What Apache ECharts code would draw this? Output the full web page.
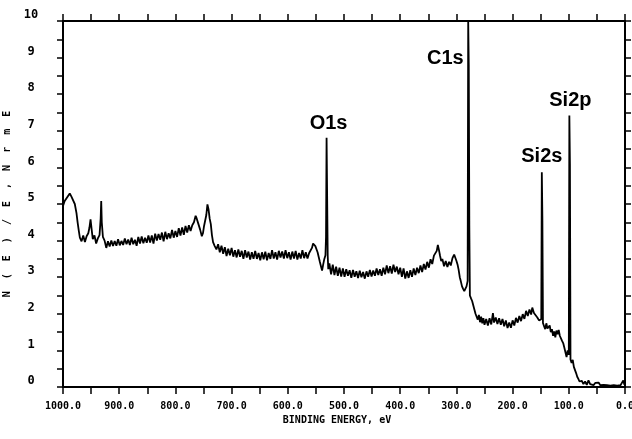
<!DOCTYPE html>
<html>
<head>
<meta charset="utf-8">
<title>XPS survey spectrum</title>
<script src="https://cdn.jsdelivr.net/npm/echarts@6/dist/echarts.min.js"></script>
<style>
  html, body { margin: 0; padding: 0; background: #fff; }
  #chart { width: 632px; height: 439px; }
</style>
</head>
<body>
<div id="chart"></div>
<script>
// Survey spectrum: [binding energy (eV), N(E)/E normalised intensity]
const spectrum = [
  [1000,4.95],[997,5.08],[994,5.15],[991,5.22],[988,5.29],[985,5.2],[982,5.22],[979,5.0],[976,4.75],[974,4.5],
  [972,4.28],[970,4.08],[967,3.98],[964,4.14],[961,3.96],[958,4.12],[955,4.2],[953,4.35],[951,4.58],[949,4.3],
  [947,4.04],[944,4.14],[941,3.92],[938,4.06],[935,4.15],[933,4.6],[932,5.08],[931,4.5],[929,4.1],[926,4.0],
  [923,3.8],[920,3.98],[917,3.84],[914,4.0],[911,3.85],[908,3.99],[905,3.86],[902,4.04],[899,3.87],[896,3.99],
  [893,3.88],[890,4.06],[887,3.9],[884,4.03],[881,3.88],[878,4.08],[875,3.9],[872,4.02],[869,3.86],[866,4.1],
  [863,3.92],[860,4.11],[857,3.93],[854,4.08],[851,3.94],[848,4.14],[845,3.95],[842,4.14],[839,3.92],[836,4.19],
  [833,4.0],[830,4.18],[827,4.02],[824,4.22],[821,3.98],[818,4.24],[815,4.04],[812,4.2],[809,4.06],[806,4.29],
  [803,4.08],[800,4.26],[797,4.1],[794,4.34],[791,4.14],[788,4.36],[785,4.16],[782,4.4],[779,4.22],[776,4.42],
  [773,4.26],[770,4.42],[767,4.5],[764,4.68],[762,4.6],[759,4.45],[756,4.3],[753,4.12],[751,4.2],[749,4.4],
  [747,4.55],[745,4.7],[743,4.99],[741,4.85],[739,4.6],[737,4.45],[735,4.15],[733,3.96],[730,3.85],[727,3.76],
  [724,3.9],[721,3.68],[718,3.86],[715,3.64],[712,3.82],[709,3.58],[706,3.78],[703,3.6],[700,3.8],[697,3.56],
  [694,3.74],[691,3.54],[688,3.76],[685,3.56],[682,3.72],[679,3.5],[676,3.74],[673,3.54],[670,3.7],[667,3.48],
  [664,3.68],[661,3.5],[658,3.72],[655,3.5],[652,3.66],[649,3.46],[646,3.68],[643,3.49],[640,3.7],[637,3.46],
  [634,3.66],[631,3.5],[628,3.74],[625,3.51],[622,3.68],[619,3.48],[616,3.72],[613,3.54],[610,3.7],[607,3.51],
  [604,3.74],[601,3.52],[598,3.68],[595,3.48],[592,3.7],[589,3.51],[586,3.72],[583,3.48],[580,3.66],[577,3.51],
  [574,3.74],[571,3.52],[568,3.68],[565,3.51],[562,3.66],[559,3.7],[557,3.8],[555,3.92],[553,3.95],[551,3.85],
  [549,3.82],[547,3.68],[545,3.55],[543,3.42],[541,3.3],[539,3.18],[537,3.35],[535,3.5],[533,3.6],[532,4.1],
  [531,6.81],[530,5.2],[529,3.6],[528,3.22],[526,3.38],[523,3.08],[520,3.34],[517,3.06],[514,3.29],[511,3.04],
  [508,3.26],[505,3.02],[502,3.24],[499,3.01],[496,3.22],[493,3.04],[490,3.19],[487,2.98],[484,3.2],[481,3.01],
  [478,3.16],[475,2.98],[472,3.18],[469,3.0],[466,3.14],[463,2.96],[460,3.16],[457,3.01],[454,3.2],[451,3.02],
  [448,3.18],[445,3.04],[442,3.24],[439,3.06],[436,3.22],[433,3.04],[430,3.26],[427,3.08],[424,3.32],[421,3.11],
  [418,3.3],[415,3.1],[412,3.34],[409,3.14],[406,3.29],[403,3.08],[400,3.26],[397,3.01],[394,3.24],[391,2.96],
  [388,3.16],[385,2.98],[382,3.19],[379,3.01],[376,3.24],[373,3.06],[370,3.26],[367,3.11],[364,3.32],[361,3.14],
  [358,3.36],[355,3.21],[352,3.42],[349,3.26],[346,3.49],[343,3.36],[340,3.59],[337,3.6],[335,3.72],[333,3.88],
  [331,3.74],[329,3.58],[327,3.44],[325,3.5],[322,3.3],[319,3.44],[316,3.28],[313,3.42],[310,3.32],[307,3.52],
  [304,3.62],[302,3.66],[300,3.45],[298,3.35],[296,3.2],[294,3.0],[292,2.88],[290,2.75],[288,2.68],[286,2.62],
  [284,2.6],[282,2.75],[280,2.9],[279,9.98],[278,8.8],[277,4.4],[276,2.5],[274,2.42],[272,2.35],[270,2.38],
  [268,2.12],[266,2.0],[264,1.92],[262,1.84],[260,1.97],[258,1.77],[256,1.92],[254,1.74],[252,1.88],[250,1.7],
  [247,1.86],[244,1.68],[241,1.88],[238,1.71],[235,2.02],[233,1.76],[230,1.9],[227,1.72],[224,1.88],[221,1.7],
  [218,1.86],[215,1.66],[212,1.82],[209,1.61],[206,1.76],[203,1.62],[200,1.82],[197,1.68],[194,1.89],[191,1.76],
  [188,1.94],[185,1.8],[182,1.99],[179,1.86],[176,2.08],[173,1.94],[170,2.12],[167,1.98],[165,2.17],[162,2.02],
  [159,1.98],[156,1.9],[153,1.82],[151,1.78],[149,1.85],[148,5.87],[147,4.6],[146,1.75],[144,1.66],[142,1.58],
  [140,1.74],[138,1.6],[136,1.56],[134,1.68],[132,1.5],[130,1.58],[128,1.4],[126,1.52],[124,1.36],[122,1.54],
  [120,1.44],[118,1.56],[116,1.4],[114,1.36],[112,1.26],[110,1.2],[108,1.08],[106,0.95],[104,0.82],[102,1.0],
  [100,0.88],[99,7.42],[98,6.1],[97,0.75],[95,0.66],[93,0.74],[91,0.55],[89,0.5],[87,0.38],[85,0.28],
  [83,0.22],[81,0.15],[79,0.1],[77,0.17],[74,0.08],[71,0.15],[68,0.06],[65,0.18],[62,0.08],[59,0.13],
  [56,0.05],[53,0.11],[50,0.06],[47,0.12],[44,0.05],[41,0.1],[38,0.06],[35,0.11],[32,0.05],[29,0.09],
  [26,0.04],[23,0.08],[20,0.05],[17,0.09],[14,0.04],[11,0.07],[8,0.05],[5,0.1],[3,0.18],[1,0.06],[0,0.05]
];

// Core-level peaks that get a name
const peakNames  = ['O1s', 'C1s', 'Si2s', 'Si2p'];
const peakEnergy = [531, 279, 148, 99];
const peakHeight = [6.81, 9.98, 5.87, 7.42];

// Axis ticks
const energyTicks = [1000, 900, 800, 700, 600, 500, 400, 300, 200, 100, 0];
const intensityTicks = [0, 1, 2, 3, 4, 5, 6, 7, 8, 9, 10];

const monoFont = '"DejaVu Sans Mono", "Liberation Mono", monospace';

// Where each peak name sits relative to its peak
const peakLabelPlacement = {
  'O1s':  { position: 'top',  distance: 4, offset: [2, 0] },
  'C1s':  { position: 'left', distance: 4, offset: [0, 37] },
  'Si2s': { position: 'top',  distance: 5, offset: [0, 0] },
  'Si2p': { position: 'top',  distance: 4, offset: [1, 0] }
};

const peakData = peakNames.map((name, i) => ({
  name: name,
  value: [peakEnergy[i], peakHeight[i]],
  label: Object.assign({
    show: true,
    formatter: name,
    color: '#000',
    opacity: 1,
    fontFamily: '"Liberation Sans", Arial, Helvetica, sans-serif',
    fontSize: 20,
    fontWeight: 'bold'
  }, peakLabelPlacement[name])
}));

const axisLineStyle = { color: '#000', width: 2 };
const tickStyle = { color: '#000', width: 1.5 };

const chart = echarts.init(document.getElementById('chart'), null, { renderer: 'canvas' });

chart.setOption({
  animation: false,
  backgroundColor: '#fff',
  grid: { left: 63, right: 7, top: 21, bottom: 52, containLabel: false, outerBoundsMode: 'none' },
  xAxis: [
    {
      type: 'value',
      inverse: true,
      min: 0,
      max: 1000,
      interval: 50,
      position: 'bottom',
      name: 'BINDING ENERGY, eV',
      nameLocation: 'middle',
      nameGap: 27,
      nameTextStyle: { fontFamily: monoFont, fontSize: 10, fontWeight: 'bold', color: '#000', padding: [0, 14, 0, 0] },
      axisLine: { show: true, onZero: false, lineStyle: axisLineStyle },
      axisTick: { show: true, inside: false, length: 7, lineStyle: tickStyle },
      axisLabel: {
        show: true,
        margin: 14,
        fontFamily: monoFont,
        fontSize: 10,
        fontWeight: 'bold',
        color: '#000',
        formatter: v => energyTicks.includes(v) ? v.toFixed(1) : ''
      },
      splitLine: { show: false }
    },
    {
      type: 'value',
      inverse: true,
      min: 0,
      max: 1000,
      interval: 50,
      position: 'top',
      axisLine: { show: true, onZero: false, lineStyle: axisLineStyle },
      axisTick: { show: true, inside: false, length: 7, lineStyle: tickStyle },
      axisLabel: { show: false },
      splitLine: { show: false }
    }
  ],
  yAxis: [
    {
      type: 'value',
      min: 0,
      max: 10,
      interval: 0.5,
      position: 'left',
      name: 'N  (  E  )  /  E  ,  N  r  m  E',
      nameLocation: 'middle',
      nameRotate: 90,
      nameGap: 46,
      nameTextStyle: { fontFamily: monoFont, fontSize: 10, fontWeight: 'bold', color: '#000' },
      axisLine: { show: true, onZero: false, lineStyle: axisLineStyle },
      axisTick: { show: true, inside: false, length: 6, lineStyle: tickStyle },
      axisLabel: {
        show: true,
        margin: 32,
        align: 'center',
        verticalAlign: 'bottom',
        fontFamily: monoFont,
        fontSize: 12,
        fontWeight: 'bold',
        color: '#000',
        formatter: v => intensityTicks.includes(v) ? String(v) : ''
      },
      splitLine: { show: false }
    },
    {
      type: 'value',
      min: 0,
      max: 10,
      interval: 0.5,
      position: 'right',
      axisLine: { show: true, onZero: false, lineStyle: axisLineStyle },
      axisTick: { show: true, inside: false, length: 6, lineStyle: tickStyle },
      axisLabel: { show: false },
      splitLine: { show: false }
    }
  ],
  series: [
    {
      name: 'spectrum',
      type: 'line',
      xAxisIndex: 0,
      yAxisIndex: 0,
      data: spectrum,
      showSymbol: false,
      symbol: 'none',
      lineStyle: { color: '#000', width: 1.8 },
      z: 3,
      silent: true
    },
    {
      name: 'peaks',
      type: 'scatter',
      xAxisIndex: 0,
      yAxisIndex: 0,
      data: peakData,
      symbolSize: 1,
      itemStyle: { color: 'rgba(0,0,0,0)', opacity: 1 },
      z: 4,
      silent: true
    }
  ]
});
</script>
</body>
</html>
